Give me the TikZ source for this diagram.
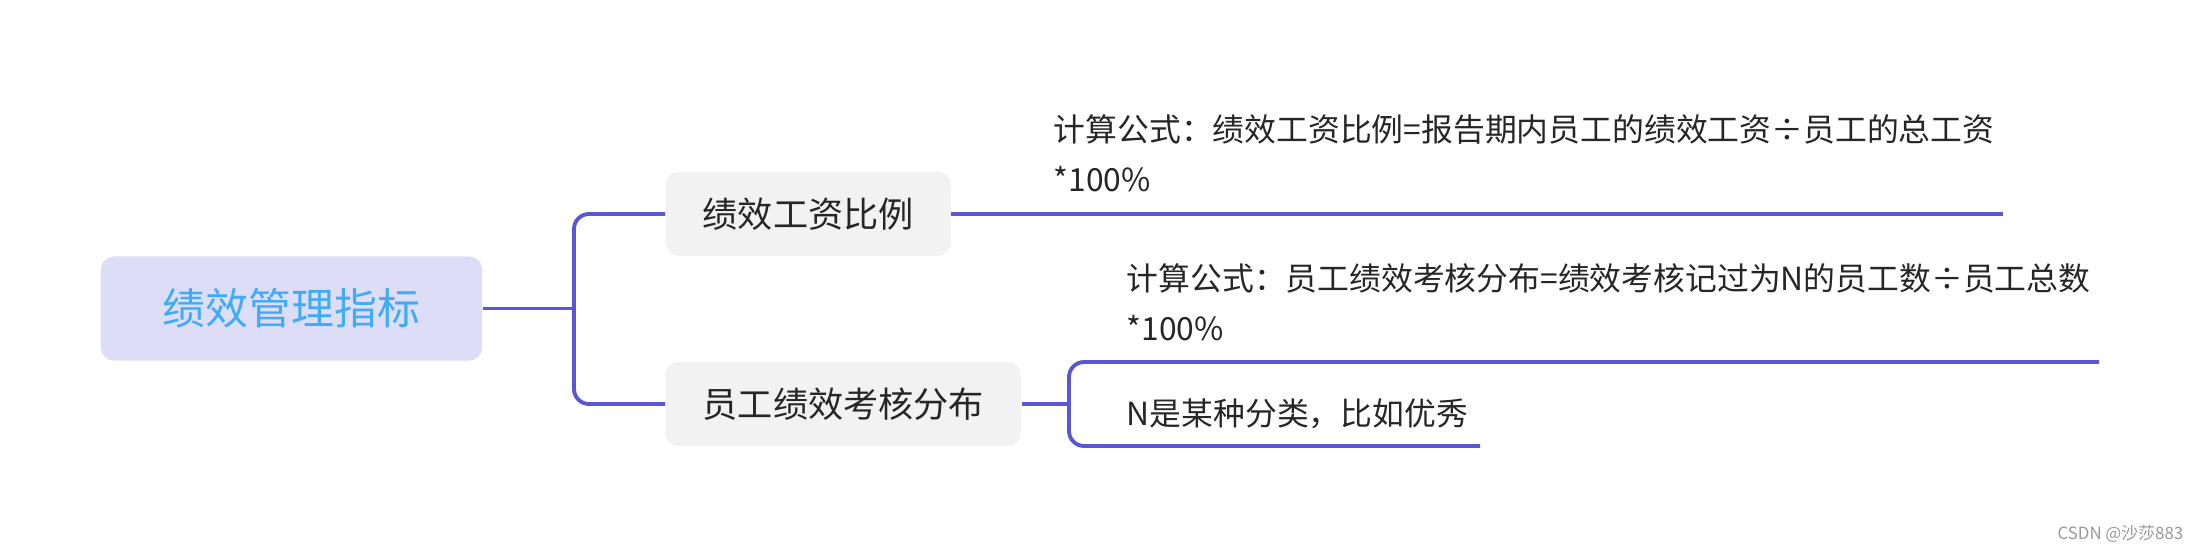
\documentclass[tikz,border=0pt]{standalone}
\usepackage{fontspec}
\setmainfont{Noto Sans CJK SC}
\definecolor{linkcol}{HTML}{5B56D6}
\definecolor{rootfill}{HTML}{DEDDF7}
\definecolor{roottext}{HTML}{40ACF6}
\definecolor{subfill}{HTML}{F2F2F2}
\definecolor{inktext}{HTML}{262626}

\begin{document}
\begin{tikzpicture}[x=0.01cm, y=-0.01cm,
    link/.style={draw=linkcol, line width=1.1pt, rounded corners=0.15cm},
    rootbox/.style={fill=rootfill, text=roottext, rounded corners=0.13cm,
        font=\fontsize{12.2}{14}\selectfont, minimum height=1.04cm, inner xsep=0.62cm},
    subbox/.style={fill=subfill, text=inktext, rounded corners=0.13cm,
        font=\fontsize{10}{12}\selectfont, minimum height=0.84cm, inner xsep=0.37cm},
    note/.style={text=inktext, anchor=west, inner sep=0, align=left,
        font=\fontsize{9.05}{14.2}\selectfont}]
    \useasboundingbox (0,0) rectangle (2199,548);
    % Root
    \node[rootbox, anchor=west] (root) at (100,308.5) {绩效管理指标};
    \coordinate (fork) at (574,308.5);
    % Branches
    \node[subbox, anchor=west] (ratio) at (665,214) {绩效工资比例};
    \node[subbox, anchor=west] (distrib) at (665,404) {员工绩效考核分布};
    \draw[link] (root.east) -- (fork);
    \draw[link] (ratio.west) -- (fork |- ratio.west) -- (fork |- distrib.west) -- (distrib.west);
    % Leaf of first branch
    \coordinate (ratioEnd) at (2003,214);
    \draw[link] (ratio.east) -- (ratioEnd);
    \node[note] (ratioNote) at (1053,153) {计算公式：绩效工资比例=报告期内员工的绩效工资÷员工的总工资\\*100\%};
    % Leaves of second branch
    \coordinate (fork2) at (1069,404);
    \coordinate (formulaEnd) at (2099,362);
    \coordinate (noteEnd) at (1480,446);
    \draw[link] (distrib.east) -- (fork2);
    \draw[link] (formulaEnd) -- (fork2 |- formulaEnd) -- (fork2 |- noteEnd) -- (noteEnd);
    \node[note] (distribFormula) at (1126,302) {计算公式：员工绩效考核分布=绩效考核记过为N的员工数÷员工总数\\*100\%};
    \node[note] (distribNote) at (1126,414) {N是某种分类，比如优秀};
    % Watermark
    \node[anchor=east, inner sep=0, text=gray!80, font=\fontsize{4.8}{5}\selectfont] (mark) at (2184,534) {CSDN @沙莎883};
\end{tikzpicture}
\end{document}
